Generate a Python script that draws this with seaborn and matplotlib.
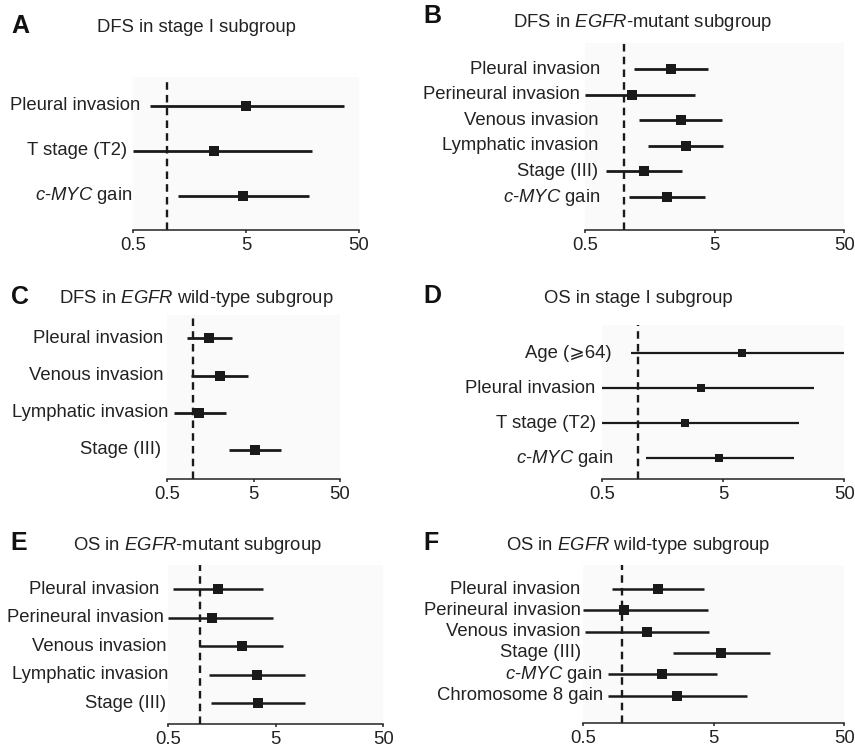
import matplotlib
matplotlib.use("Agg")
import matplotlib.pyplot as plt
import matplotlib.transforms as mtransforms
import seaborn as sns
import pandas as pd

# hazard ratios (95% CI)
a_labels = ['Pleural invasion', 'T stage (T2)', r'$\mathit{c}$-$\mathit{MYC}$ gain']
a_hr = [5.0, 2.6, 4.7]
a_lo = [0.70, 0.50, 1.24]
a_hi = [36.6, 19.2, 17.9]

b_labels = ['Pleural invasion', 'Perineural invasion', 'Venous invasion',
            'Lymphatic invasion', 'Stage (III)', r'$\mathit{c}$-$\mathit{MYC}$ gain']
b_hr = [2.30, 1.15, 2.73, 2.99, 1.43, 2.16]
b_lo = [1.20, 0.50, 1.31, 1.54, 0.73, 1.10]
b_hi = [4.41, 3.52, 5.66, 5.80, 2.81, 4.21]

c_labels = ['Pleural invasion', 'Venous invasion', 'Lymphatic invasion', 'Stage (III)']
c_hr = [1.53, 2.04, 1.16, 5.19]
c_lo = [0.85, 0.94, 0.59, 2.61]
c_hi = [2.83, 4.34, 2.38, 10.4]

d_labels = ['Age (\u2a7e64)', 'Pleural invasion', 'T stage (T2)', r'$\mathit{c}$-$\mathit{MYC}$ gain']
d_hr = [7.13, 3.31, 2.43, 4.67]
d_lo = [0.87, 0.50, 0.50, 1.15]
d_hi = [50.0, 28.1, 21.2, 19.2]

e_labels = ['Pleural invasion', 'Perineural invasion', 'Venous invasion',
            'Lymphatic invasion', 'Stage (III)']
e_hr = [1.45, 1.30, 2.43, 3.37, 3.42]
e_lo = [0.56, 0.50, 1.00, 1.22, 1.26]
e_hi = [3.80, 4.77, 5.90, 9.39, 9.30]

f_labels = ['Pleural invasion', 'Perineural invasion', 'Venous invasion',
            'Stage (III)', r'$\mathit{c}$-$\mathit{MYC}$ gain', 'Chromosome 8 gain']
f_hr = [1.89, 1.04, 1.54, 5.70, 2.01, 2.62]
f_lo = [0.84, 0.50, 0.52, 2.46, 0.78, 0.78]
f_hi = [4.26, 4.52, 4.62, 13.5, 5.29, 9.07]

xticks = [0.5, 5, 50]
xticklabels = ['0.5', '5', '50']

titles = {
    'A': 'DFS in stage I subgroup',
    'B': r'DFS in $\mathit{EGFR}$-mutant subgroup',
    'C': r'DFS in $\mathit{EGFR}$ wild-type subgroup',
    'D': 'OS in stage I subgroup',
    'E': r'OS in $\mathit{EGFR}$-mutant subgroup',
    'F': r'OS in $\mathit{EGFR}$ wild-type subgroup',
}

sns.set_theme(style='white')
plt.rcParams['font.family'] = ['Liberation Sans', 'DejaVu Sans']
plt.rcParams['mathtext.fontset'] = 'custom'
plt.rcParams['mathtext.rm'] = 'Liberation Sans'
plt.rcParams['mathtext.it'] = 'Liberation Sans:italic'

W, H = 855, 748
fig = plt.figure(figsize=(W / 100, H / 100), dpi=100)
ink = '#1a1a1a'
fs = 13.3

# layout in pixels: left, right, top, bottom of plot box; ylim; marker, line width,
# label right-edge offsets (px from box left); letter/title positions (x, baseline)
panels = [
    dict(key='A', labels=a_labels, hr=a_hr, lo=a_lo, hi=a_hi,
         box=(133.3, 359, 77, 230), ylim=(2.756, -0.644), ms=9, lw=2.0,
         off=[7, -6, -1], letter=(11, 33.3), title=(96.7, 31.7)),
    dict(key='B', labels=b_labels, hr=b_hr, lo=b_lo, hi=b_hi,
         box=(585, 844.3, 43, 230), ylim=(6.29, -1.02), ms=10.5, lw=2.0,
         off=[15, -5, 13, 13, 13, 15], letter=(423, 23.3), title=(513.3, 26.7)),
    dict(key='C', labels=c_labels, hr=c_hr, lo=c_lo, hi=c_hi,
         box=(167.3, 340, 315, 479.3), ylim=(3.79, -0.63), ms=10.5, lw=2.0,
         off=[-4, -4, 1, -6], letter=(11, 304.3), title=(59.3, 303.3)),
    dict(key='D', labels=d_labels, hr=d_hr, lo=d_lo, hi=d_hi,
         box=(601.7, 844.3, 325, 479.3), ylim=(3.6, -0.81), ms=8.5, lw=1.6,
         off=[10, -6, -6, 12], letter=(423, 303.3), title=(544.3, 303.3)),
    dict(key='E', labels=e_labels, hr=e_hr, lo=e_lo, hi=e_hi,
         box=(167.7, 383.3, 565, 724.3), ylim=(4.74, -0.85), ms=9.5, lw=1.8,
         off=[-8, -4, -1, 1, -2], letter=(10, 550), title=(72.7, 550)),
    dict(key='F', labels=f_labels, hr=f_hr, lo=f_lo, hi=f_hi,
         box=(582.7, 844.3, 565, 723.3), ylim=(6.3, -1.13), ms=10.5, lw=1.8,
         off=[-2, -2, -2, -2, 20, 20], letter=(423, 550), title=(506, 550)),
]

for p in panels:
    l, r, t, b = p['box']
    ax = fig.add_axes([l / W, 1 - b / H, (r - l) / W, (b - t) / H])
    ax.set_facecolor('#fafafa')
    df = pd.DataFrame({'factor': p['labels'], 'hr': p['hr'], 'lo': p['lo'], 'hi': p['hi']})
    df['row'] = range(len(df))

    ax.hlines(df['row'], df['lo'], df['hi'], color=ink, lw=p['lw'], zorder=2)
    sns.scatterplot(data=df, x='hr', y='row', marker='s', s=p['ms'] ** 2 * 0.56,
                    color=ink, linewidth=0, ax=ax, zorder=3, legend=False)
    ax.axvline(1, color=ink, lw=1.7, ls=(0, (3.2, 2.2)), zorder=1, clip_on=False)

    ax.set_xscale('log')
    ax.set_xlim(0.5, 50)
    ax.set_ylim(*p['ylim'])
    ax.set_xticks(xticks)
    ax.set_xticklabels(xticklabels)
    ax.minorticks_off()
    ax.set_yticks([])
    ax.set_xlabel('')
    ax.set_ylabel('')
    for s in ['top', 'right', 'left']:
        ax.spines[s].set_visible(False)
    ax.spines['bottom'].set_color('#222222')
    ax.spines['bottom'].set_linewidth(1.1)
    ax.tick_params(axis='x', bottom=True, direction='out', length=2.5, width=1.1,
                   color='#222222', pad=2.2, labelsize=fs, labelcolor='#222222')

    trans = mtransforms.blended_transform_factory(ax.transAxes, ax.transData)
    for i, lab in enumerate(p['labels']):
        ax.annotate(lab, xy=(0, i), xycoords=trans, xytext=(p['off'][i], 0),
                    textcoords='offset pixels', ha='right', va='center',
                    fontsize=fs, color='#222222', annotation_clip=False)

    lx, ly = p['letter']
    fig.text(lx / W, 1 - ly / H, p['key'], fontsize=18, fontweight='bold',
             color='#111111', ha='left', va='baseline')
    tx, ty = p['title']
    fig.text(tx / W, 1 - ty / H, titles[p['key']], fontsize=fs,
             color='#222222', ha='left', va='baseline')

fig.savefig('out.png', dpi=100)
